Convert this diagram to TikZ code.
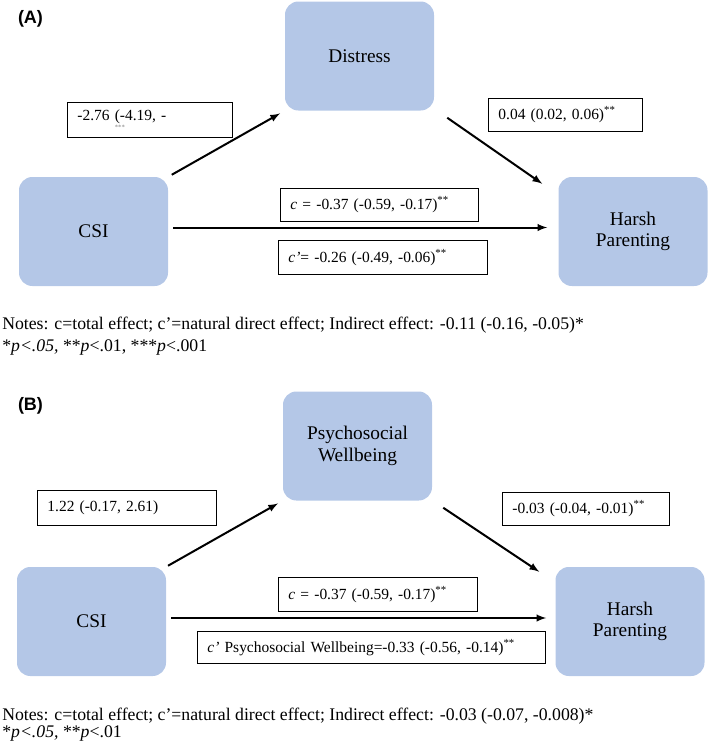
\documentclass[tikz,border=0pt]{standalone}
\usepackage{fontspec}
\setmainfont{Liberation Serif}
\newfontfamily\panelfont{Liberation Sans}
\usepackage{tikz}
\definecolor{boxblue}{RGB}{180,199,231}
\tikzstyle{var}=[rectangle, rounded corners=10pt, fill=boxblue, inner sep=0pt,
  minimum width=111.75pt, minimum height=81.75pt, align=center,
  font=\fontsize{14.5}{16}\selectfont]
\tikzstyle{est}=[rectangle, draw, line width=0.7pt, anchor=north west,
  inner xsep=7.5pt, inner ysep=1pt, align=left, font=\fontsize{11.6}{13}\selectfont]
\tikzstyle{arr}=[-latex, line width=1.5pt]
\tikzstyle{note}=[anchor=base west, inner sep=0pt, font=\fontsize{13.3}{16}\selectfont]
\tikzstyle{panel}=[inner sep=0pt, font=\panelfont\fontsize{13.5}{15}\selectfont\bfseries]

\begin{document}
\begin{tikzpicture}[x=0.75pt, y=-0.75pt]
    \useasboundingbox (0,0) rectangle (709,744);

    % panel (A): the three variables
    \node[panel] (pa) at (30.5,18.5) {(A)};
    \node[var] (csia) at (93.5,231.5) {CSI};
    \node[var] (dista) at (359.5,56) {Distress};
    \node[var] (harsha) at (633,231.5) {Harsh\\Parenting};

    % paths
    \draw[arr, shorten <=3pt, shorten >=4pt] (csia.north east) -- (dista.south west);
    \draw[arr] ([shift={(13,7)}]dista.south east) -- ([shift={(-16,7)}]harsha.north west);
    \draw[arr] ([shift={(5,-4)}]csia.east) -- ([shift={(-11,-4)}]harsha.west);

    % estimates
    \node[est, text width=108.75pt, minimum height=26.25pt] (ea) at (67,102)
      {-2.76 \rlap{\raisebox{-1.3ex}{\color{gray}\fontsize{5}{5}\selectfont ***}}(-4.19, -};
    \node[est, text width=100.5pt, minimum height=24.75pt] (eb) at (488,98)
      {0.04 (0.02, 0.06)\textsuperscript{**}};
    \node[est, text width=133.5pt, minimum height=24.75pt] (ec) at (280,188)
      {\textit{c} = -0.37 (-0.59, -0.17)\textsuperscript{**}};
    \node[est, text width=141.75pt, minimum height=25.5pt] (ed) at (278,240)
      {\textit{c\textquoteright}= -0.26 (-0.49, -0.06)\textsuperscript{**}};

    % notes
    \node[note] (na) at (2,329)
      {Notes: c=total effect; c\textquoteright=natural direct effect; Indirect effect: -0.11 (-0.16, -0.05)*};
    \node[note] (nb) at (2,351)
      {*\textit{p<.05,} **\textit{p}<.01, ***\textit{p}<.001};

    % panel (B): the three variables
    \node[panel] (pb) at (30.5,405.5) {(B)};
    \node[var] (csib) at (91.5,621.5) {CSI};
    \node[var] (psyb) at (357.5,446) {Psychosocial\\Wellbeing};
    \node[var] (harshb) at (630,621.5) {Harsh\\Parenting};

    % paths
    \draw[arr, shorten <=1.5pt, shorten >=4pt] (csib.north east) -- (psyb.south west);
    \draw[arr] ([shift={(11,7)}]psyb.south east) -- ([shift={(-16,5)}]harshb.north west);
    \draw[arr] ([shift={(5,-3.5)}]csib.east) -- ([shift={(-9,-3.5)}]harshb.west);

    % estimates
    \node[est, text width=119.25pt, minimum height=26.25pt] (ee) at (37,490)
      {1.22 (-0.17, 2.61)};
    \node[est, text width=110.25pt, minimum height=24.75pt] (ef) at (502,492)
      {-0.03 (-0.04, -0.01)\textsuperscript{**}};
    \node[est, text width=134.25pt, minimum height=25.5pt] (eg) at (278,577)
      {\textit{c} = -0.37 (-0.59, -0.17)\textsuperscript{**}};
    \node[est, text width=246pt, minimum height=24pt] (eh) at (197,631)
      {\textit{c\textquoteright} Psychosocial Wellbeing=-0.33 (-0.56, -0.14)\textsuperscript{**}};

    % notes
    \node[note] (nc) at (2,720)
      {Notes: c=total effect; c\textquoteright=natural direct effect; Indirect effect: -0.03 (-0.07, -0.008)*};
    \node[note] (nd) at (2,737)
      {*\textit{p<.05,} **\textit{p}<.01};

\end{tikzpicture}
\end{document}
